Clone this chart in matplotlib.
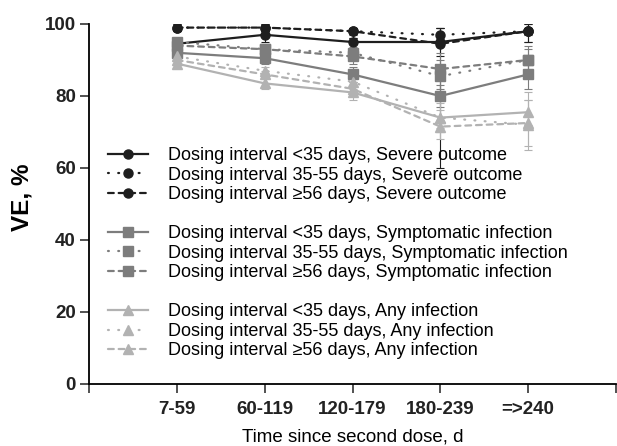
import matplotlib.pyplot as plt
from matplotlib.lines import Line2D
import numpy as np

plt.rcParams['font.family'] = ['Liberation Sans', 'DejaVu Sans']

periods = ['7-59', '60-119', '120-179', '180-239', '=>240']

# severe outcome
sev_lt35 = [94.5, 97, 95, 95, 98]
sev_lt35_lo = [92, 95, 93, 91, 95]
sev_lt35_hi = [96, 99, 97, 99, 100]
sev_35_55 = [99, 99, 98, 97, 98]
sev_35_55_lo = [98, 98, 96, 94, 97]
sev_35_55_hi = [100, 100, 99, 99, 99]
sev_ge56 = [99, 99, 98, 94.5, 98]
sev_ge56_lo = [98, 98, 96, 60, 95]
sev_ge56_hi = [100, 100, 99, 99, 100]

# symptomatic infection
sym_lt35 = [92, 90.5, 86, 80, 86]
sym_lt35_lo = [91, 89, 84, 77, 82]
sym_lt35_hi = [93, 92, 88, 83, 90]
sym_35_55 = [95, 93, 92, 85.5, 90]
sym_35_55_lo = [94, 92, 90, 80, 87]
sym_35_55_hi = [96, 94, 93.5, 90, 93]
sym_ge56 = [94, 93, 91, 87.5, 90]
sym_ge56_lo = [93, 92, 89, 82, 86]
sym_ge56_hi = [95, 94, 93, 92, 94]

# any infection
any_lt35 = [89, 83.5, 81, 74, 75.5]
any_lt35_lo = [88, 82, 79, 70, 72]
any_lt35_hi = [90, 85, 83, 78, 79]
any_35_55 = [91, 87, 84, 74, 72]
any_35_55_lo = [90, 86, 82, 71, 66]
any_35_55_hi = [92, 88, 86, 79, 79]
any_ge56 = [90, 86, 82, 71.5, 72.5]
any_ge56_lo = [89, 85, 80, 68, 65]
any_ge56_hi = [91, 87, 84, 76, 81]

x = np.arange(1, len(periods) + 1)

black = '#1e1e1e'
mid = '#7d7d7d'
light = '#b2b2b2'
solid = '-'
dotted = (0, (0.4, 4.2))
dashed = (0, (2.6, 2.2))

series = [
    (sev_lt35, sev_lt35_lo, sev_lt35_hi, black, 'o', solid, 'Dosing interval <35 days, Severe outcome'),
    (sev_35_55, sev_35_55_lo, sev_35_55_hi, black, 'o', dotted, 'Dosing interval 35-55 days, Severe outcome'),
    (sev_ge56, sev_ge56_lo, sev_ge56_hi, black, 'o', dashed, 'Dosing interval \u226556 days, Severe outcome'),
    (sym_lt35, sym_lt35_lo, sym_lt35_hi, mid, 's', solid, 'Dosing interval <35 days, Symptomatic infection'),
    (sym_35_55, sym_35_55_lo, sym_35_55_hi, mid, 's', dotted, 'Dosing interval 35-55 days, Symptomatic infection'),
    (sym_ge56, sym_ge56_lo, sym_ge56_hi, mid, 's', dashed, 'Dosing interval \u226556 days, Symptomatic infection'),
    (any_lt35, any_lt35_lo, any_lt35_hi, light, '^', solid, 'Dosing interval <35 days, Any infection'),
    (any_35_55, any_35_55_lo, any_35_55_hi, light, '^', dotted, 'Dosing interval 35-55 days, Any infection'),
    (any_ge56, any_ge56_lo, any_ge56_hi, light, '^', dashed, 'Dosing interval \u226556 days, Any infection'),
]

fig = plt.figure(figsize=(6.17, 4.46), dpi=100)
ax = fig.add_axes([89 / 617, 62 / 446, 527 / 617, 360 / 446])

handles = []
for i, (vals, lo, hi, col, mk, ls, lab) in enumerate(series):
    vals = np.array(vals)
    yerr = [vals - np.array(lo), np.array(hi) - vals]
    ax.errorbar(x, vals, yerr=yerr, fmt='none', ecolor=col, elinewidth=0.8,
                capsize=3, capthick=0.8, zorder=2)
    ln, = ax.plot(x, vals, color=col, marker=mk, markersize=6.5, linestyle=ls,
                  linewidth=1.6, dash_capstyle='round', zorder=3, label=lab)
    handles.append(ln)
    if i in (2, 5):
        handles.append(Line2D([], [], linestyle='none', label=' '))

ax.set_xlim(0, 6)
ax.set_ylim(0, 100)
ax.set_xticks(np.arange(0, 7))
ax.set_xticklabels([''] + periods + [''])
ax.set_yticks([0, 20, 40, 60, 80, 100])
ax.spines['top'].set_visible(False)
ax.spines['right'].set_visible(False)
ax.spines['left'].set_linewidth(1.3)
ax.spines['bottom'].set_linewidth(1.3)
ax.tick_params(axis='both', length=6.5, width=1.1, labelsize=13.5, colors='#222222')
ax.tick_params(axis='x', pad=6)
ax.tick_params(axis='y', pad=3)
for t in ax.get_xticklabels() + ax.get_yticklabels():
    t.set_fontweight('bold')

ax.set_ylabel('VE, %', fontsize=17.5, fontweight='bold')
ax.yaxis.set_label_coords(-0.105, 0.52)
ax.set_xlabel('Time since second dose, d', fontsize=13.5, labelpad=7)

ax.legend(handles=handles, loc='upper left', bbox_to_anchor=(0.036, 0.658),
          frameon=False, fontsize=13, handlelength=2.2, handletextpad=1.1,
          labelspacing=0.14, numpoints=1, borderpad=0, borderaxespad=0)

plt.savefig('out.png', dpi=100)
